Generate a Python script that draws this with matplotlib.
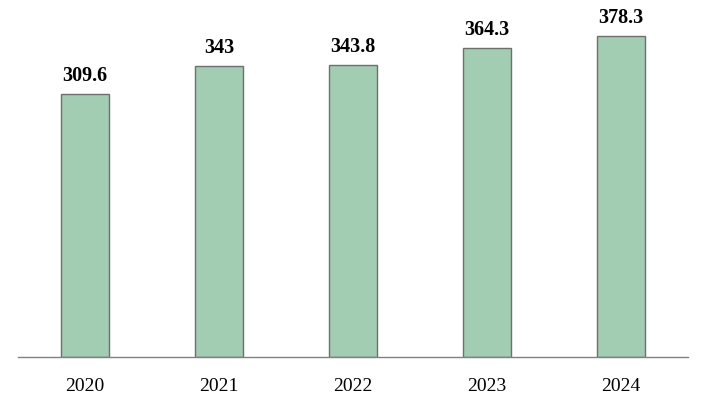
import matplotlib.pyplot as plt

years = ['2020', '2021', '2022', '2023', '2024']
values = [309.6, 343, 343.8, 364.3, 378.3]
labels = ['309.6', '343', '343.8', '364.3', '378.3']

plt.rcParams['font.family'] = ['Liberation Serif', 'DejaVu Serif']

fig = plt.figure(figsize=(7.06, 4.10), dpi=100, facecolor='white')
ax = fig.add_axes([18 / 706, 52 / 410, 670 / 706, 348 / 410])

x = range(len(years))
ax.bar(x, values, width=0.365, color='#a3cdb2', edgecolor='#6f6f6f', linewidth=1)

for i, (v, lab) in enumerate(zip(values, labels)):
    ax.text(i, v + 10.5, lab, ha='center', va='bottom', fontsize=14.5, fontweight='bold', color='black')

ax.set_xlim(-0.5, 4.5)
ax.set_ylim(0, 410)
ax.set_xticks(list(x))
ax.set_xticklabels(years, fontsize=14)
ax.tick_params(axis='x', length=0, pad=14.5)
ax.set_yticks([])
for side in ['top', 'right', 'left']:
    ax.spines[side].set_visible(False)
ax.spines['bottom'].set_color('#808080')
ax.spines['bottom'].set_linewidth(1)

fig.savefig('out.png', dpi=100, facecolor='white')
